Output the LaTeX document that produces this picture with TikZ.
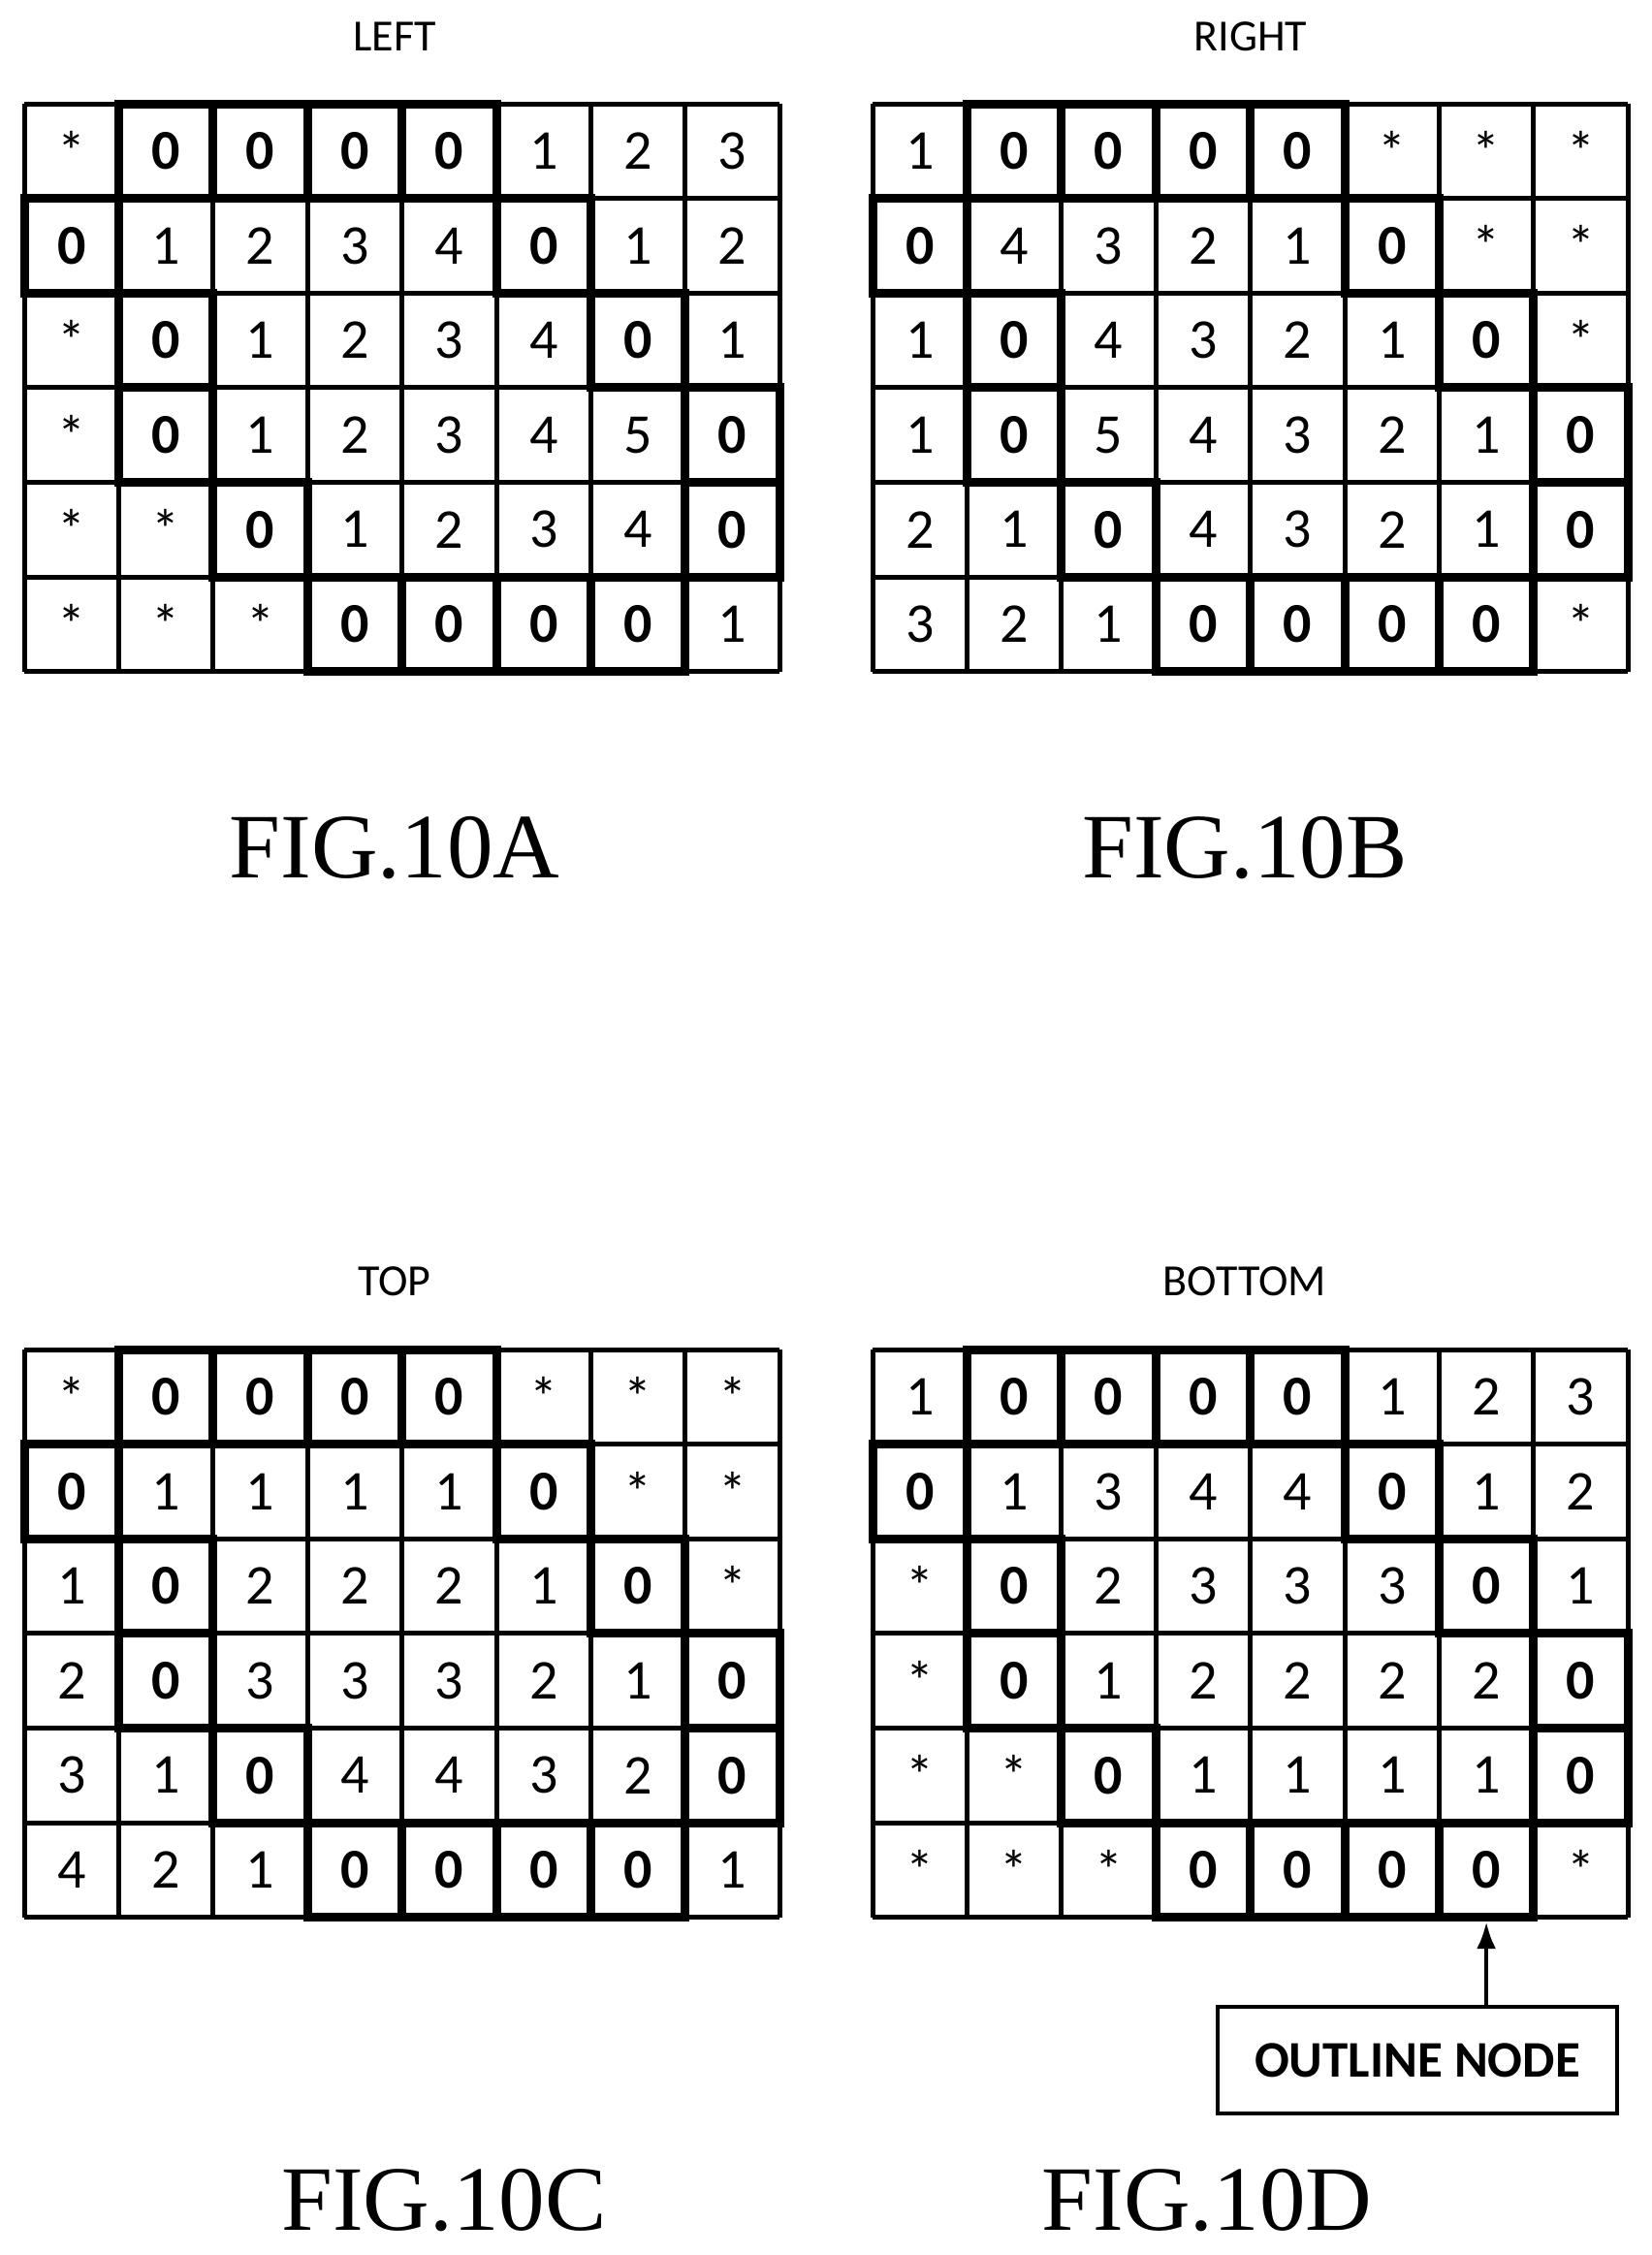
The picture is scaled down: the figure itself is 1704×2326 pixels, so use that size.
\documentclass[tikz,border=0pt]{standalone}
\usepackage{fontspec}
\setmainfont{Liberation Serif}
\setsansfont{Carlito}
\usetikzlibrary{arrows.meta}
\begin{document}
\begin{tikzpicture}[x=1pt,y=-1pt,
  thin grid/.style={line width=5pt},
  cell/.style={minimum width=97.4pt,minimum height=97.6pt,inner sep=0pt,font=\sffamily\fontsize{58}{60}\selectfont},
  bcell/.style={cell,draw,line width=9pt,font=\sffamily\bfseries\fontsize{58}{60}\selectfont},
  title/.style={font=\sffamily\fontsize{46}{50}\selectfont},
  fig/.style={font=\fontsize{95}{100}\selectfont}]
\useasboundingbox (0,0) rectangle (1704,2326);
\fill[white] (0,0) rectangle (1704,2326);
\def\cw{97.4}\def\ch{97.6}
\def\tokB{B}
\newcommand\mygrid[4]{% name, x0, y0, rows
  \foreach \i in {0,...,8} \draw[thin grid] ({#2+\cw*\i},#3) -- ++(0,{6*\ch});
  \foreach \j in {0,...,6} \draw[thin grid] (#2,{#3+\ch*\j}) -- ++({8*\cw},0);
  \foreach \row [count=\r from 0] in {#4}{
    \foreach \v [count=\c from 0] in \row {
      \edef\tmp{\v}%
      \ifx\tmp\tokB
        \node[bcell] (#1-\r-\c) at ({#2+\cw*(\c+0.5)},{#3+\ch*(\r+0.5)}) {0};
      \else
        \node[cell] (#1-\r-\c) at ({#2+\cw*(\c+0.5)},{#3+\ch*(\r+0.5)}) {\v};
      \fi
    }
  }
}
\mygrid{A}{25}{107}{{*,B,B,B,B,1,2,3},{B,1,2,3,4,B,1,2},{*,B,1,2,3,4,B,1},{*,B,1,2,3,4,5,B},{*,*,B,1,2,3,4,B},{*,*,*,B,B,B,B,1}}
\mygrid{B}{900}{107}{{1,B,B,B,B,*,*,*},{B,4,3,2,1,B,*,*},{1,B,4,3,2,1,B,*},{1,B,5,4,3,2,1,B},{2,1,B,4,3,2,1,B},{3,2,1,B,B,B,B,*}}
\mygrid{C}{25}{1392}{{*,B,B,B,B,*,*,*},{B,1,1,1,1,B,*,*},{1,B,2,2,2,1,B,*},{2,B,3,3,3,2,1,B},{3,1,B,4,4,3,2,B},{4,2,1,B,B,B,B,1}}
\mygrid{D}{900}{1392}{{1,B,B,B,B,1,2,3},{B,1,3,4,4,B,1,2},{*,B,2,3,3,3,B,1},{*,B,1,2,2,2,2,B},{*,*,B,1,1,1,1,B},{*,*,*,B,B,B,B,*}}
\node[title] (tA) at (407,38) {LEFT};
\node[title] (tB) at (1290,38) {RIGHT};
\node[title] (tC) at (407,1322) {TOP};
\node[title] (tD) at (1284,1322) {BOTTOM};
\node[fig] (fA) at (407,875) {FIG.10A};
\node[fig] (fB) at (1284,875) {FIG.10B};
\node[fig] (fC) at (458,2270) {FIG.10C};
\node[fig] (fD) at (1245,2270) {FIG.10D};
\node[draw,line width=4.5pt,minimum width=412pt,minimum height=110pt,font=\sffamily\bfseries\fontsize{53}{56}\selectfont] (on) at (1462,2125) {OUTLINE NODE};
\draw[line width=4.5pt,-{Latex[length=28pt,width=20pt]}] (on.north -| D-5-6.south) -- (D-5-6.south);
\end{tikzpicture}
\end{document}
